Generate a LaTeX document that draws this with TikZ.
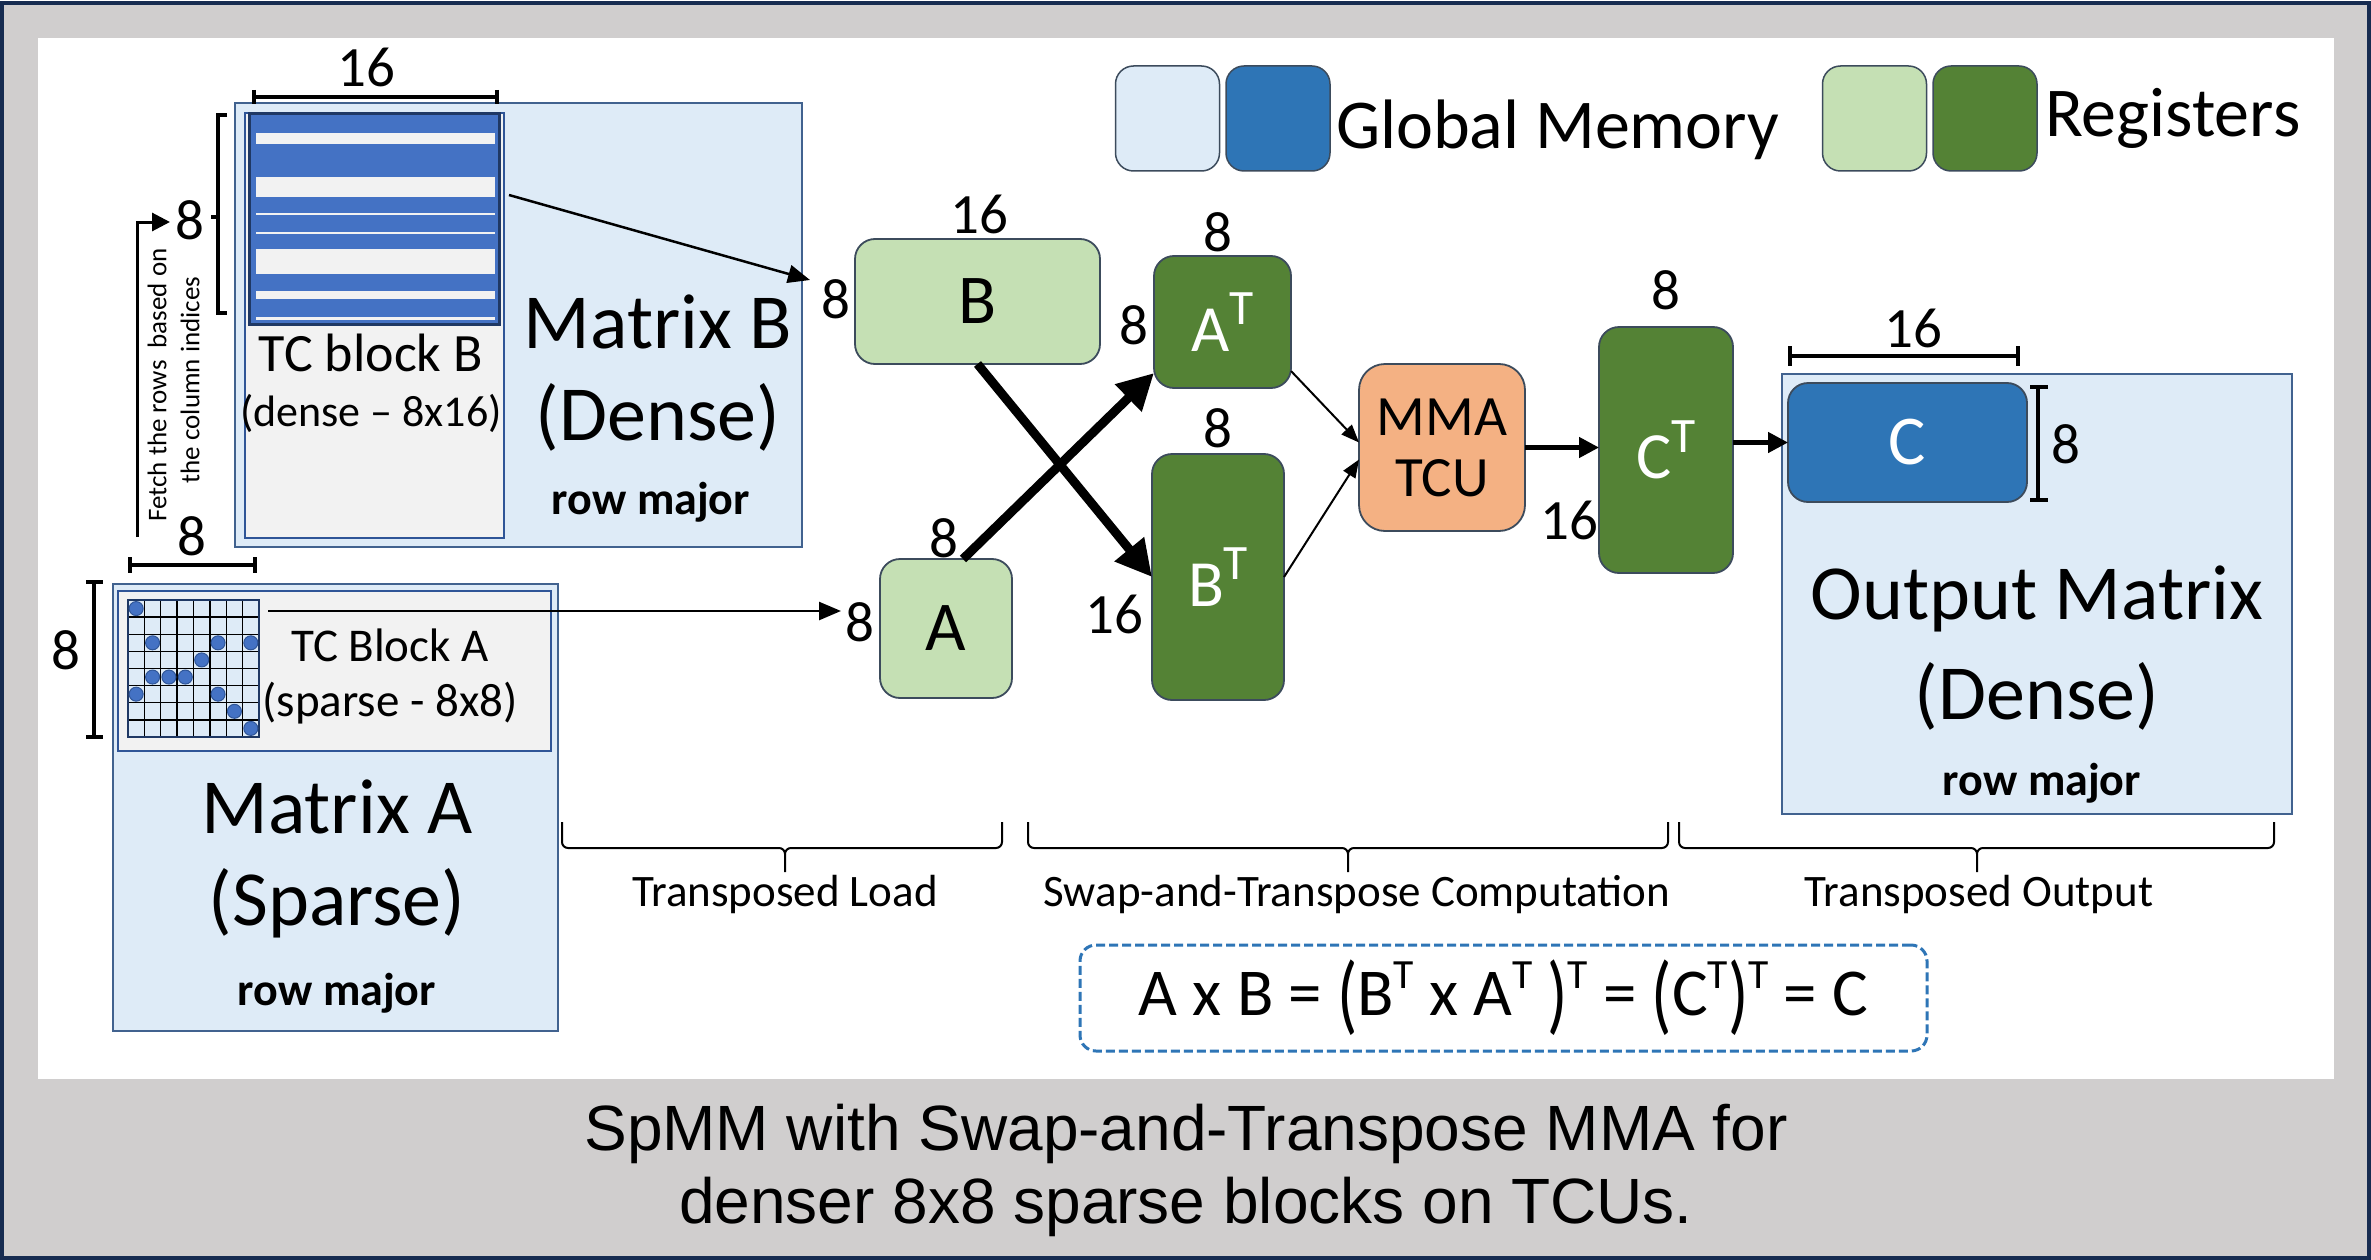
\documentclass[tikz,border=0pt]{standalone}
\usepackage{fontspec}
\usepackage{graphicx}
\setmainfont{Carlito}
\newfontfamily\capfont{Liberation Sans}
\usetikzlibrary{arrows.meta}
\definecolor{navy}{HTML}{172C51}
\definecolor{bggray}{HTML}{D0CECE}
\definecolor{lblue}{HTML}{DEEBF7}
\definecolor{boxedge}{HTML}{41628F}
\definecolor{ggray}{HTML}{F2F2F2}
\definecolor{sblue}{HTML}{4472C4}
\definecolor{dotedge}{HTML}{2F5597}
\definecolor{dnavy}{HTML}{1F3864}
\definecolor{lgreen}{HTML}{C5E0B4}
\definecolor{dgreen}{HTML}{548235}
\definecolor{orng}{HTML}{F4B183}
\definecolor{cblue}{HTML}{2E75B6}
\definecolor{regedge}{HTML}{3C4B5C}
\newcommand\fsz[1]{\fontsize{#1}{#1}\selectfont}
\newcommand\supT[1][0.75]{\raisebox{0.4em}{\scalebox{#1}{T}}}
\newcommand\tallL{\raisebox{-0.13em}{\scalebox{1}[1.3]{(}}}
\newcommand\tallR{\raisebox{-0.13em}{\scalebox{1}[1.3]{)}}}
\begin{document}
\begin{tikzpicture}[x=1pt,y=-1pt,
  every node/.style={inner sep=0pt,outer sep=0pt},
  membox/.style={draw=boxedge,line width=2pt,fill=lblue},
  tcbox/.style={draw=dotedge,line width=2pt,fill=ggray},
  reglight/.style={draw=regedge,line width=1.8pt,fill=lgreen,rounded corners=20pt,font=\fsz{70}},
  regdark/.style={draw=regedge,line width=1.8pt,fill=dgreen,rounded corners=20pt,text=white,font=\fsz{66}},
  dimtxt/.style={font=\fsz{57}},
  bigtxt/.style={font=\fsz{78}},
  rowtxt/.style={font=\bfseries\fsz{46}},
  dimbar/.style={line width=4pt},
  thickarrow/.style={line width=9pt,-{Triangle[length=36pt,width=36pt]}},
  thinarrow/.style={line width=2pt,-{Triangle[length=18pt,width=14pt]}},
  medarrow/.style={line width=4.5pt,-{Triangle[length=20pt,width=20pt]}},
  loadarrow/.style={line width=2.5pt,-{Triangle[length=22pt,width=18pt]}},
  bracepath/.style={line width=2pt},
  legbox/.style={draw=regedge,line width=1.5pt,rounded corners=18pt,minimum width=104,minimum height=105}
]
\useasboundingbox (0,0) rectangle (2371,1260);
% frame
\draw[navy,line width=4pt,fill=bggray] (2,3) rectangle (2369,1258);
\fill[white] (38,38) rectangle (2334,1079);

% legend
\node[legbox,fill=lblue] (lg1) at (1167.5,118.5) {};
\node[legbox,fill=cblue] (lg2) at (1278,118.5) {};
\node[anchor=west,font=\fsz{70}] (lgt1) at (1336,130) {Global Memory};
\node[legbox,fill=lgreen] (lg3) at (1874.5,118.5) {};
\node[legbox,fill=dgreen] (lg4) at (1985,118.5) {};
\node[anchor=west,font=\fsz{70}] (lgt2) at (2045,118) {Registers};

% Matrix B
\node[membox,minimum width=567,minimum height=444] (matB) at (518.5,325) {};
\node[tcbox,minimum width=259,minimum height=425] (tcB) at (374.5,325.5) {};
\node[draw=dnavy,line width=3pt,fill=sblue,minimum width=250,minimum height=210] (stripes) at (374,219) {};
\foreach \a/\b in {133/144,177/197,213.5/215.5,232/233.5,249/274,291/299,317/320}
  \fill[ggray] (256,\a) rectangle (495,\b);
\node[font=\fsz{54}] (tcBt) at (371,353) {TC block B};
\node[font=\fsz{44}] (tcBd) at (371,413) {(dense -- 8x16)};
\node[bigtxt] (matBt) at (658,322) {Matrix B};
\node[bigtxt] (matBd) at (658,417) {(Dense)};
\node[rowtxt] (matBr) at (651,502) {row major};
% dims of TC block B
\draw[dimbar] (254,90) -- (254,104) (254,97) -- (497,97) (497,90) -- (497,104);
\node[dimtxt] (d16b) at (366,67) {16};
\draw[line width=3.5pt] (227,115) -- (218,115) -- (218,313) -- (227,313) (218,217) -- (211,217);
\node[dimtxt] (d8b) at (190,220) {8};
% fetch arrow
\coordinate (fetchS) at (137,537);
\coordinate (fetchE) at (170,222);
\draw[line width=3pt,-{Triangle[length=18pt,width=18pt]}] (fetchS) |- (fetchE);
\node[rotate=90,font=\fsz{27}] (fetch1) at (157,385) {Fetch the rows\ \ based on};
\node[rotate=90,font=\fsz{27}] (fetch2) at (190,380) {the column indices};

% Matrix A
\node[membox,minimum width=445,minimum height=447] (matA) at (335.5,807.5) {};
\node[tcbox,minimum width=433,minimum height=160] (tcA) at (334.5,671) {};
\fill[lblue] (128,600) rectangle (259,737);
\foreach \i in {1,...,7} {
  \draw[black,line width=1.3pt] ({128+\i*16.375},600) -- ({128+\i*16.375},737);
  \draw[black,line width=1.3pt] (128,{600+\i*17.125}) -- (259,{600+\i*17.125});
}
\draw[dnavy,line width=2.5pt] (128,600) rectangle (259,737);
\foreach \r/\c in {0/0,2/1,2/5,2/7,3/4,4/1,4/2,4/3,5/0,5/5,6/6,7/7}
  \draw[dotedge,line width=1pt,fill=sblue] ({128+(\c+0.5)*16.375},{600+(\r+0.5)*17.125}) circle[radius=7pt];
\node[font=\fsz{47}] (tcAt) at (390,645) {TC Block A};
\node[font=\fsz{47}] (tcAd) at (390,703) {(sparse - 8x8)};
\node[bigtxt] (matAt) at (337,807) {Matrix A};
\node[bigtxt] (matAd) at (337,903) {(Sparse)};
\node[rowtxt] (matAr) at (337,993) {row major};
\draw[dimbar] (130,557) -- (130,573) (130,565) -- (255,565) (255,557) -- (255,573);
\node[dimtxt] (d8a1) at (192,536) {8};
\draw[dimbar] (86,582) -- (103,582) (94,582) -- (94,737) (86,737) -- (103,737);
\node[dimtxt] (d8a2) at (66,650) {8};

% registers
\node[reglight,minimum width=245,minimum height=125] (B) at (977.5,301.5) {B};
\node[reglight,minimum width=132,minimum height=139] (A) at (946,628.5) {A};
\node[regdark,minimum width=137,minimum height=132] (AT) at (1222.5,322) {A\supT};
\node[regdark,minimum width=132,minimum height=246] (BT) at (1218,577) {B\supT};
\node[draw=regedge,line width=1.8pt,fill=orng,rounded corners=26pt,minimum width=166,minimum height=167,align=center,font=\fsz{57}] (MMA) at (1442,447.5) {MMA\\[4pt]TCU};
\node[regdark,minimum width=134,minimum height=246] (CT) at (1666,450) {C\supT};

\node[dimtxt] at (979,214) {16};
\node[dimtxt] at (836,299) {8};
\node[dimtxt] at (1218,232) {8};
\node[dimtxt] at (1134,325) {8};
\node[dimtxt] at (1218,428) {8};
\node[dimtxt] at (1114,614) {16};
\node[dimtxt] at (944,538) {8};
\node[dimtxt] at (860,622) {8};
\node[dimtxt] at (1569,520) {16};
\node[dimtxt] at (1666,290) {8};

% output
\node[membox,minimum width=510,minimum height=440] (out) at (2037,594) {};
\node[draw=regedge,line width=1.8pt,fill=cblue,rounded corners=20pt,minimum width=239,minimum height=119,text=white,font=\fsz{70}] (C) at (1907.5,442.5) {C};
\draw[dimbar] (1790,346) -- (1790,366) (1790,356) -- (2018,356) (2018,346) -- (2018,366);
\node[dimtxt] at (1913,328) {16};
\draw[dimbar] (2030,387) -- (2048,387) (2038,387) -- (2038,500) (2030,500) -- (2048,500);
\node[dimtxt] at (2066,444) {8};
\node[bigtxt] (outt) at (2037,599) {Output Matrix};
\node[bigtxt] (outd) at (2037,696) {(Dense)};
\node[rowtxt] (outr) at (2042,783) {row major};

% connectors
\coordinate (stripS) at (509,195);
\coordinate (stripE) at (810,280);
\draw[loadarrow] (stripS) -- (stripE);
\coordinate (tcaS) at (268,611);
\coordinate (tcaE) at (841,611);
\draw[loadarrow] (tcaS) -- (tcaE);
\draw[thickarrow] (B.south) -- (BT.west);
\draw[thickarrow] ([xshift=17pt]A.north) -- ([yshift=15pt]AT.south west);
\draw[thinarrow] ([yshift=17pt]AT.south east) -- ([yshift=5pt]MMA.west);
\draw[thinarrow] (BT.east) -- ([yshift=-12pt]MMA.west);
\draw[medarrow] (MMA.east) -- (MMA.east -| CT.west);
\draw[medarrow] (C.west -| CT.east) -- (C.west);

% braces
\foreach \xa/\xm/\xb in {562/785/1002,1028/1348/1668,1679/1977/2274} {
  \draw[bracepath] (\xa,822) -- (\xa,842) to[out=-90,in=180] (\xa+6,848) -- (\xm-6,848) to[out=0,in=90] (\xm,854) -- (\xm,872);
  \draw[bracepath] (\xm,854) to[out=90,in=180] (\xm+6,848) -- (\xb-6,848) to[out=0,in=-90] (\xb,842) -- (\xb,822);
}
\node[font=\fsz{45}] (br1) at (785,894) {Transposed Load};
\node[font=\fsz{45}] (br2) at (1357,894) {Swap-and-Transpose Computation};
\node[font=\fsz{45}] (br3) at (1979,894) {Transposed Output};

% equation
\node[draw=cblue,dashed,dash pattern=on 9pt off 4pt,line width=3pt,rounded corners=16pt,minimum width=847,minimum height=106,font=\fsz{67}] (eq) at (1503.5,998)
 {A x B = \tallL B\supT[0.62] x A\supT[0.62] \tallR\supT[0.62] = \tallL C\supT[0.62]\tallR\supT[0.62] = C};

% caption
\node[align=center,font=\capfont\fontsize{64}{73}\selectfont] (cap) at (1186,1170) {SpMM with Swap-and-Transpose MMA for\\denser 8x8 sparse blocks on TCUs.};
\end{tikzpicture}
\end{document}
